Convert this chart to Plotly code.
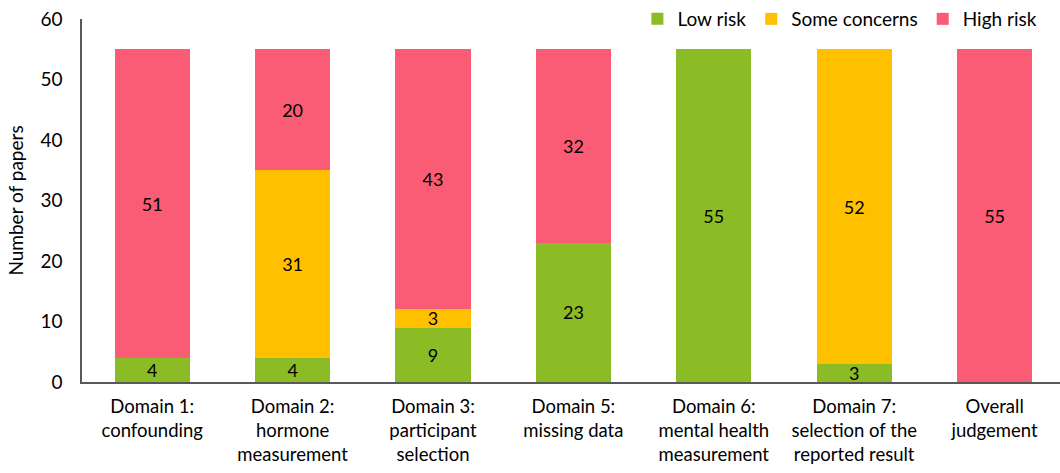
import plotly.graph_objects as go

categories = ["Domain 1:<br>confounding", "Domain 2:<br>hormone<br>measurement",
              "Domain 3:<br>participant<br>selection", "Domain 5:<br>missing data",
              "Domain 6:<br>mental health<br>measurement", "Domain 7:<br>selection of the<br>reported result",
              "Overall<br>judgement"]
low_risk = [4, 4, 9, 23, 55, 3, 0]
some_concerns = [0, 31, 3, 0, 0, 52, 0]
high_risk = [51, 20, 43, 32, 0, 0, 55]

series = [("Low risk", low_risk, "#8BBC25"),
          ("Some concerns", some_concerns, "#FFC000"),
          ("High risk", high_risk, "#F95C74")]

FONT = "Lato, Open Sans, sans-serif"

fig = go.Figure()
for name, vals, color in series:
    fig.add_trace(go.Bar(
        name=name, x=list(range(len(categories))), y=vals,
        marker=dict(color=color, line=dict(width=0)),
        text=[str(v) if v > 0 else "" for v in vals],
        textposition="inside", insidetextanchor="middle", textangle=0,
        constraintext="none",
        textfont=dict(color="black", size=18, family=FONT),
        width=0.535,
    ))

fig.update_layout(
    barmode="stack",
    width=1060, height=473,
    margin=dict(l=82, r=0, t=17, b=91),
    plot_bgcolor="white", paper_bgcolor="white",
    font=dict(family=FONT, size=18, color="black"),
    uniformtext=dict(minsize=10, mode="show"),
    legend=dict(orientation="h", x=0.982, xanchor="right", y=1.0, yanchor="middle",
                font=dict(size=19), traceorder="normal", itemwidth=30,
                bgcolor="rgba(0,0,0,0)"),
    xaxis=dict(tickmode="array", tickvals=list(range(len(categories))), ticktext=categories,
               range=[-0.5, 6.466], showline=True, linecolor="#595959", linewidth=1.5,
               ticks="", showgrid=False, tickfont=dict(size=18.5), ticklabelstandoff=7),
    yaxis=dict(range=[0, 60], dtick=10, showline=True, linecolor="#595959", linewidth=1.5,
               showgrid=False, ticks="", zeroline=False, tickfont=dict(size=19),
               ticklabelstandoff=14,
               title=dict(text="Number of papers", font=dict(size=19), standoff=12)),
)

fig.write_html("out.html")
